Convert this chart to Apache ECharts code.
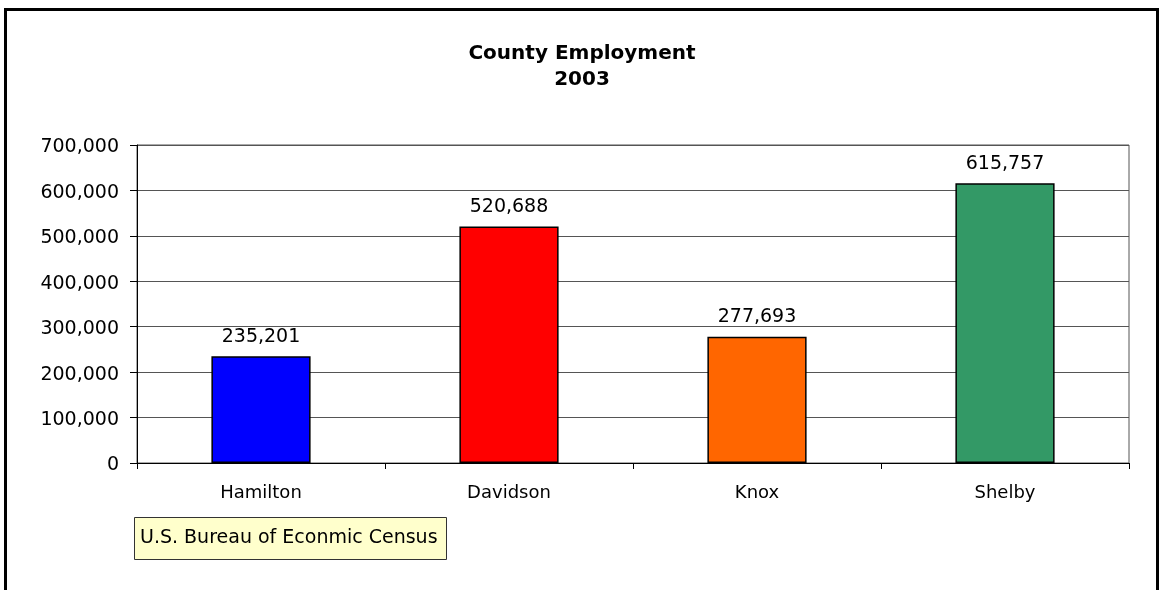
<!DOCTYPE html>
<html>
<head>
<meta charset="utf-8">
<style>
  html, body { margin: 0; padding: 0; background: #ffffff; }
  #chart { width: 1159px; height: 590px; }
</style>
<script src="https://cdn.jsdelivr.net/npm/echarts@6/dist/echarts.min.js"></script>
</head>
<body>
<div id="chart"></div>
<script>
// County employment, 2003
const counties = ['Hamilton', 'Davidson', 'Knox', 'Shelby'];
const employment = [235201, 520688, 277693, 615757];
const barColors = ['#0000FF', '#FF0000', '#FF6600', '#339966'];
const yTicks = [0, 100000, 200000, 300000, 400000, 500000, 600000, 700000];

const fmt = v => Number(v).toLocaleString('en-US');
const FONT = '"DejaVu Sans", Verdana, sans-serif';

const chart = echarts.init(document.getElementById('chart'), null, { renderer: 'canvas' });

chart.setOption({
  backgroundColor: '#ffffff',
  animation: false,
  title: {
    text: 'County Employment\n2003',
    left: 582,
    top: 41,
    padding: 0,
    textAlign: 'center',
    textStyle: {
      fontFamily: FONT,
      fontWeight: 'bold',
      fontSize: 20,
      lineHeight: 26,
      color: '#000000'
    }
  },
  grid: {
    left: 137,
    top: 145,
    right: 30,
    bottom: 127,
    containLabel: false,
    show: true,
    borderColor: '#555555',
    borderWidth: 1,
    backgroundColor: 'transparent'
  },
  xAxis: {
    type: 'category',
    data: counties,
    boundaryGap: true,
    axisLine: { show: true, lineStyle: { color: '#000000', width: 1 } },
    axisTick: { show: true, interval: 0, alignWithLabel: false, length: 6, lineStyle: { color: '#000000' } },
    axisLabel: { interval: 0, margin: 21, fontFamily: FONT, fontSize: 18, color: '#000000' },
    splitLine: { show: false }
  },
  yAxis: {
    type: 'value',
    min: yTicks[0],
    max: yTicks[yTicks.length - 1],
    interval: yTicks[1] - yTicks[0],
    axisLine: { show: true, lineStyle: { color: '#000000', width: 1 } },
    axisTick: { show: true, inside: false, length: 7, lineStyle: { color: '#000000' } },
    axisLabel: {
      margin: 18,
      color: '#000000',
      formatter: v => '{n|' + fmt(v) + '}',
      rich: {
        n: { fontFamily: FONT, fontSize: 19, color: '#000000', padding: [5, 0, 0, 0] }
      }
    },
    splitLine: { show: true, lineStyle: { color: '#555555', width: 1 } }
  },
  series: [{
    type: 'bar',
    data: employment.map((v, i) => ({ value: v, itemStyle: { color: barColors[i] } })),
    barWidth: '40%',
    itemStyle: { borderColor: '#000000', borderWidth: 1.5 },
    label: {
      show: true,
      position: 'top',
      distance: 10,
      fontFamily: FONT,
      fontSize: 19,
      color: '#000000',
      formatter: p => fmt(p.value)
    }
  }],
  graphic: [
    {
      // outer frame
      type: 'rect',
      silent: true,
      shape: { x: 5.5, y: 9.5, width: 1152, height: 620 },
      style: { fill: 'transparent', stroke: '#000000', lineWidth: 3 },
      z: 100
    },
    {
      // source note
      type: 'group',
      left: 134,
      top: 517,
      children: [
        {
          type: 'rect',
          shape: { x: 0.5, y: 0.5, width: 312, height: 42 },
          style: { fill: '#FFFFCC', stroke: '#333333', lineWidth: 1 }
        },
        {
          type: 'text',
          x: 6,
          y: 21.5,
          style: {
            text: 'U.S. Bureau of Econmic Census',
            font: '19px ' + FONT,
            fill: '#000000',
            verticalAlign: 'middle',
            align: 'left'
          }
        }
      ]
    }
  ]
});
</script>
</body>
</html>
